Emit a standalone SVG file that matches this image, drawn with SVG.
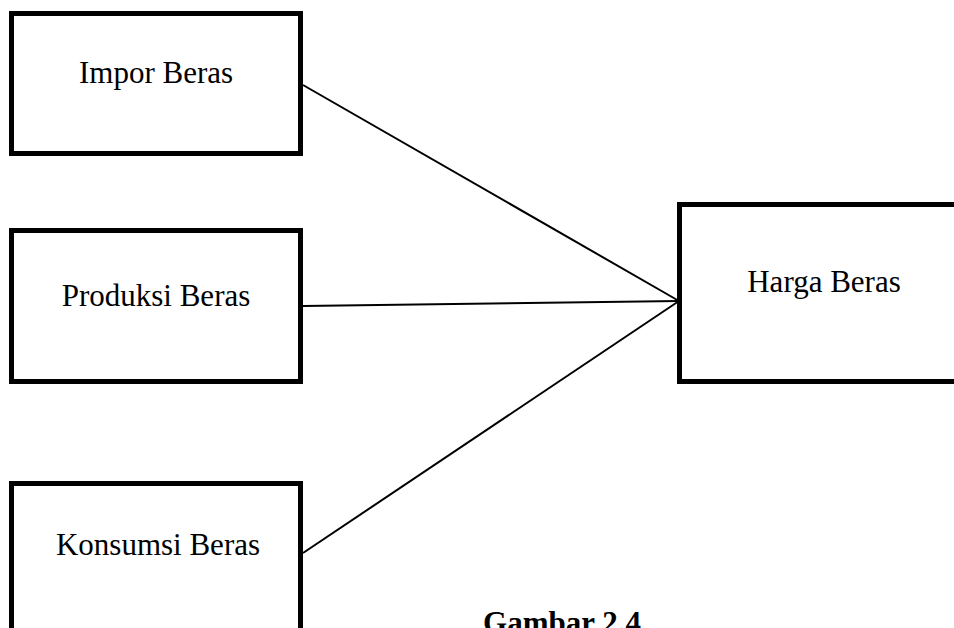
<svg xmlns="http://www.w3.org/2000/svg" width="954" height="628" viewBox="0 0 954 628">
<style>
.box{fill:#fff;stroke:#000;stroke-width:5}
.lbl{font-family:"Liberation Serif","Times New Roman",serif;font-size:31px;fill:#000;text-anchor:middle}
.cap{font-family:"Liberation Serif","Times New Roman",serif;font-size:31px;font-weight:bold;fill:#000;text-anchor:middle}
.edge{stroke:#000;stroke-width:2;fill:none}
</style>
<rect width="954" height="628" fill="#fff"/>
<g id="connectors">
<line class="edge" x1="303" y1="85" x2="679" y2="301"/>
<line class="edge" x1="303" y1="306" x2="679" y2="301"/>
<line class="edge" x1="303" y1="553" x2="679" y2="301"/>
</g>
<g id="impor">
<rect class="box" x="11.5" y="13.5" width="289" height="140"/>
<text class="lbl" x="156" y="83">Impor Beras</text>
</g>
<g id="produksi">
<rect class="box" x="11.5" y="230.5" width="289" height="151"/>
<text class="lbl" x="156" y="306">Produksi Beras</text>
</g>
<g id="konsumsi">
<rect class="box" x="11.5" y="483.5" width="289" height="160"/>
<text class="lbl" x="158" y="555">Konsumsi Beras</text>
</g>
<g id="harga">
<rect class="box" x="679.5" y="204.5" width="290" height="177"/>
<text class="lbl" x="824" y="292">Harga Beras</text>
</g>
<g id="caption">
<text class="cap" x="562" y="633">Gambar 2.4</text>
</g>
</svg>
